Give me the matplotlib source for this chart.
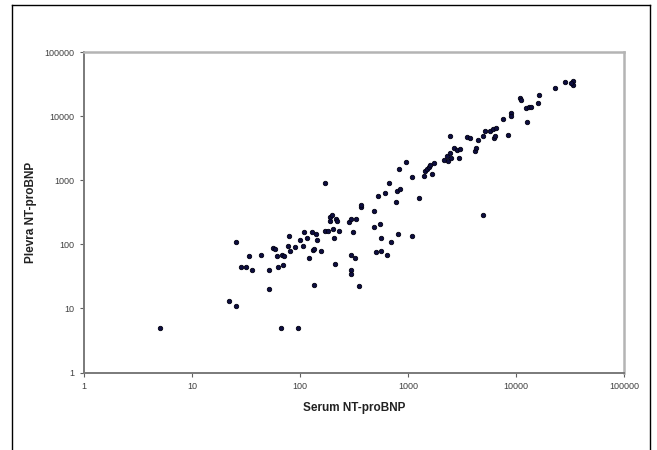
import matplotlib
matplotlib.use("Agg")
import matplotlib.pyplot as plt
from matplotlib.lines import Line2D

# serum vs pleural NT-proBNP
serum = [5, 22, 25.8, 25.6, 28.4, 31.6, 34, 35.8, 43.6, 52, 52, 56.5, 59, 61.7, 62,
         66.3, 67.5, 69.6, 70.7, 77.2, 78.6, 80, 89, 94.8, 101, 106, 110, 115, 120,
         129.5, 132, 134, 134, 141.6, 143.6, 155, 170, 172, 181, 188, 197, 191, 202,
         206, 211.6, 215, 220, 229, 284, 294, 294, 294, 294, 311, 322, 331, 350, 368,
         368, 481, 481, 503, 526, 550, 562, 562, 612, 634, 669, 693, 772, 785, 800,
         822, 847, 957, 1080, 1093, 1260, 1391, 1429, 1494, 1548, 1596, 1678, 1754,
         2134, 2290, 2330, 2450, 2450, 2500, 2693, 2817, 2943, 3000, 3521, 3747,
         4170, 4300, 4400, 4900, 4900, 5120, 5700, 6120, 6230, 6570, 6430, 7510,
         8360, 8910, 8910, 10940, 11150, 12270, 12730, 13100, 13900, 15920, 16350,
         22920, 28660, 33960, 33960, 32500]
pleura = [5, 13, 11, 107, 44, 44, 66, 40, 68, 40, 20, 88, 84, 66, 44,
          5, 68, 48, 65, 93, 134, 78, 90, 5, 117, 95, 155, 125, 61,
          157, 82, 23, 86, 145, 117, 79, 890, 163, 163, 263, 286, 228, 173,
          124, 50, 248, 230, 163, 220, 248, 69, 40, 35, 154, 61, 248, 22, 376,
          414, 326, 184, 75, 571, 207, 124, 80, 643, 69, 920, 110, 450, 683, 145,
          1482, 724, 1950, 136, 1140, 530, 1168, 1397, 1500, 1631, 1700, 1240, 1884,
          2046, 2390, 2000, 4950, 2690, 2250, 3220, 2925, 2250, 3030, 4720, 4500,
          2857, 3220, 4190, 285, 4890, 5850, 5850, 6210, 4610, 6590, 4890, 9090,
          5010, 11270, 10000, 19280, 17950, 13480, 8070, 13740, 14000, 16110, 21200,
          27560, 34180, 34800, 30340, 33000]

ticks = [1, 10, 100, 1000, 10000, 100000]
tick_labels = ["1", "10", "100", "1000", "10000", "100000"]

plt.rcParams['font.family'] = ['Liberation Sans', 'DejaVu Sans']

fig = plt.figure(figsize=(6.57, 4.5), dpi=100)
ax = fig.add_axes([0.1279, 0.1722, 0.8219, 0.7122])

ax.plot(serum, pleura, 'o', color='#0d0d40', markeredgecolor='#000010',
        markersize=3.2, markeredgewidth=0.6)

ax.set_xscale('log')
ax.set_yscale('log')
ax.set_xlim(1, 100000)
ax.set_ylim(1, 100000)
ax.set_xticks(ticks)
ax.set_xticklabels(tick_labels)
ax.set_yticks(ticks)
ax.set_yticklabels(tick_labels)
ax.minorticks_off()
ax.tick_params(labelsize=6.5, labelcolor='#404040', color='#606060',
               length=3, width=0.8, pad=4)

for s in ['top', 'right']:
    ax.spines[s].set_color('#b4b4b4')
    ax.spines[s].set_linewidth(1.8)
for s in ['left', 'bottom']:
    ax.spines[s].set_color('#7a7a7a')
    ax.spines[s].set_linewidth(1.4)

ax.set_xlabel("Serum NT-proBNP", fontsize=8.5, fontweight='bold', color='#222222', labelpad=8)
ax.set_ylabel("Plevra NT-proBNP", fontsize=8.5, fontweight='bold', color='#222222', labelpad=5)

# open black frame around the figure (cut at the bottom)
W, H = 657.0, 450.0
x0, x1, y0 = 11.5 / W, 650 / W, 1 - 5 / H
fig.add_artist(Line2D([x0, x0], [0, y0], color='black', lw=1.0, transform=fig.transFigure))
fig.add_artist(Line2D([x0, x1], [y0, y0], color='black', lw=1.0, transform=fig.transFigure))
fig.add_artist(Line2D([x1, x1], [y0, 0], color='black', lw=1.0, transform=fig.transFigure))

fig.savefig("out.png", dpi=100)
